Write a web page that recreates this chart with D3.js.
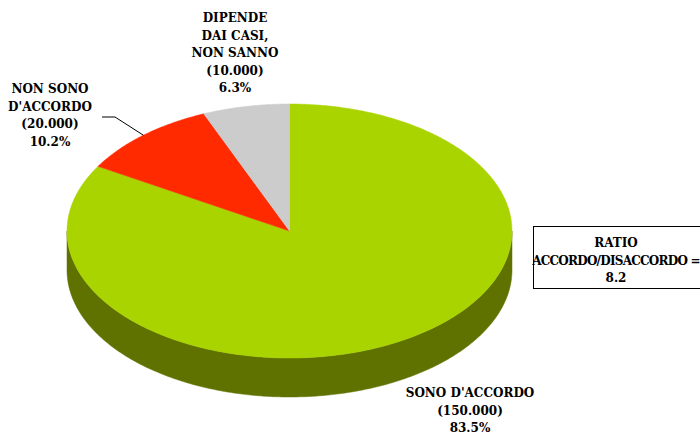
<!DOCTYPE html>
<html><head><meta charset="utf-8">
<script src="https://cdn.jsdelivr.net/npm/d3@7"></script>
<style>html,body{margin:0;padding:0;background:#fff;overflow:hidden}</style>
</head><body>
<svg id="chart" width="700" height="435"></svg>
<script>
// ---- data ----
const categories = ["SONO D'ACCORDO", "NON SONO D'ACCORDO", "DIPENDE DAI CASI, NON SANNO"];
const counts = [150000, 20000, 10000];
const percents = [83.5, 10.2, 6.3];
const labelLines = [["SONO D'ACCORDO"], ["NON SONO", "D'ACCORDO"], ["DIPENDE", "DAI CASI,", "NON SANNO"]];
const ratioLines = ["RATIO", "ACCORDO/DISACCORDO =", "8.2"];

// ---- style / layout ----
const topColors = ["#aad400", "#ff2a00", "#cccccc"];
const sideColors = ["#5f7200", "#991900", "#7a7a7a"];
const cx = 289.5, cy = 231, rx = 222.5, ry = 127, depth = 39;
const font = "'DejaVu Serif', serif";
const fs = 12, lh = 17.5;
const labelPos = [{x: 470, y: 397}, {x: 50, y: 93}, {x: 235, y: 22}];

const svg = d3.select("#chart");
const fmt = v => "(" + d3.format(",")(v).replace(/,/g, ".") + ")";

const pie = d3.pie().sort(null).value(d => d.p).startAngle(0).endAngle(2 * Math.PI);
const data = categories.map((c, i) => ({c, v: counts[i], p: percents[i], i}));
const arcs = pie(data);

const px = a => cx + rx * Math.sin(a);
const py = (a, dy = 0) => cy - ry * Math.cos(a) + dy;

function sample(a0, a1, dy) {
  const n = Math.max(2, Math.ceil(Math.abs(a1 - a0) / 0.01));
  const pts = [];
  for (let k = 0; k <= n; k++) { const a = a0 + (a1 - a0) * k / n; pts.push([px(a), py(a, dy)]); }
  return pts;
}
const line = d3.line();

// side walls (front half: angles between PI/2 and 3PI/2)
const gSide = svg.append("g");
arcs.forEach(d => {
  const a0 = Math.max(d.startAngle, Math.PI / 2), a1 = Math.min(d.endAngle, 3 * Math.PI / 2);
  if (a1 <= a0) return;
  const pts = sample(a0, a1, 0).concat(sample(a1, a0, depth));
  gSide.append("path").attr("d", line(pts) + "Z").attr("fill", sideColors[d.data.i]).attr("stroke", sideColors[d.data.i]).attr("stroke-width", 0.5);
});

// top faces
const gTop = svg.append("g");
arcs.forEach(d => {
  const pts = [[cx, cy]].concat(sample(d.startAngle, d.endAngle, 0));
  gTop.append("path").attr("d", line(pts) + "Z").attr("fill", topColors[d.data.i]).attr("stroke", topColors[d.data.i]).attr("stroke-width", 0.5);
});

// leader line for the red slice
{
  const d = arcs[1];
  const m = (d.startAngle + d.endAngle) / 2;
  const ex = px(m), ey = py(m);
  svg.append("polyline")
    .attr("points", [[102, 117], [115, 117], [ex, ey]].map(p => p.join(",")).join(" "))
    .attr("fill", "none").attr("stroke", "#000").attr("stroke-width", 1);
}

// labels
arcs.forEach(d => {
  const i = d.data.i;
  const lines = labelLines[i].concat([fmt(d.data.v), d.data.p.toFixed(1) + "%"]);
  const t = svg.append("text").attr("font-family", font).attr("font-weight", "bold").attr("font-size", fs)
    .attr("text-anchor", "middle").attr("fill", "#000");
  lines.forEach((s, k) => t.append("tspan").attr("x", labelPos[i].x).attr("y", labelPos[i].y + k * lh).text(s));
});

// ratio box
svg.append("rect").attr("x", 533.5).attr("y", 226.5).attr("width", 200).attr("height", 62)
  .attr("fill", "#fff").attr("stroke", "#000").attr("stroke-width", 1);
ratioLines.forEach((s, k) => {
  const t = svg.append("text").attr("font-family", font).attr("font-weight", "bold").attr("font-size", fs)
    .attr("text-anchor", "middle").attr("fill", "#000")
    .attr("x", 616).attr("y", 247 + k * lh).text(s);
  if (s.length > 12) t.attr("letter-spacing", -0.75);
});
</script>
</body></html>
